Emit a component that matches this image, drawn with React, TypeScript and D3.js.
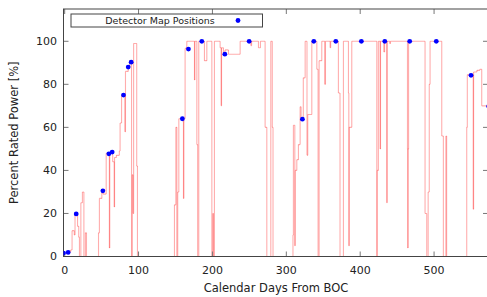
import React from 'react';
import * as d3 from 'd3';

// power history (step after), days from BOC
const days = [
  -2, 3, 8, 10, 13, 14, 17.4, 19, 20, 21.9, 24, 26, 28, 29.5, 45.8, 47, 50.3, 52, 56.2, 60.5, 61, 65, 67, 67.5, 70, 74, 75, 77, 81.5, 82.3, 86, 88, 90.5, 91.5, 92.5, 93.3, 97.5, 98.5,
  148.6, 150.5, 151.8, 153, 154.5, 160.8, 161.3, 163, 165.3, 175.7, 176.2, 178.9, 180, 181.5, 189.2, 192.4, 199.2, 200.5, 201.4, 202.7, 210.4, 211.8, 212.3, 214.9, 217, 221.7, 237.5, 252, 253, 262.3, 265, 271.3, 273.6, 279, 281, 282,
  309, 309.6, 311.5, 312, 314.2, 316.4, 318.7, 320, 323, 325.5, 328, 329, 334.5, 341.3, 343, 344.4, 348, 352, 353, 359.3, 360, 370.5, 372.7, 377.3, 384.1, 384.6, 385.2, 388.6, 422.5,
  423, 424.6, 427, 427.5, 432, 433, 436, 436.5, 440, 441, 464, 464.4, 464.8, 465.5, 487.8, 490.1, 492, 493.5, 494.6, 510.4, 512.6, 516, 517, 544.2, 545, 553, 553.5, 558, 562, 564.5, 575,
];
const power = [
  1.5, 2, 3, 12, 10, 20, 14, 9, 0, 25, 30, 0, 11, 0, 11, 27, 31, 29, 48, 4, 48, 44, 23, 46, 47, 49, 62, 75, 58, 86, 88, 91, 0, 38, 20, 99, 42, 0,
  24, 60, 0, 30, 64, 27, 64, 96.7, 100, 82, 100, 52, 0, 100, 91, 100, 0, 20, 0, 100, 97, 70, 97, 93.5, 96, 94, 100, 98, 100, 97, 100, 60, 0, 100, 60, 0,
  10, 61, 5, 40, 45, 52, 69.6, 64, 83, 100, 47, 66, 100, 87, 0, 91, 100, 80, 100, 97, 100, 76, 0, 100, 76, 5, 60, 100, 0,
  40, 100, 50, 100, 95, 100, 25, 100, 99, 100, 50, 4, 50, 100, 20, 0, 30, 80, 100, 56, 0, 56, 0, 60, 84.5, 22, 85.7, 86.5, 87, 70, 70,
];

// detector map positions
const mapDays = [-1.6, 4.7, 15.6, 51.7, 59.8, 64.3, 79.6, 86, 90, 159.3, 167.5, 185.6, 216.8, 249.7, 321.8, 337.2, 367, 401.6, 433.3, 467, 503, 550, 574];
const mapPower = [1.6, 1.9, 19.8, 30.5, 47.7, 48.5, 75, 88, 90.3, 64, 96.4, 100, 94, 100, 63.8, 100, 100, 100, 100, 100, 100, 84.2, 69.8];

const xTicks = [0, 100, 200, 300, 400, 500];
const yTicks = [0, 20, 40, 60, 80, 100];

const W = 487;
const H = 297;
const left = 63.5, right = 488, top = 9, bottom = 256.5;
const font = 'DejaVu Sans, sans-serif';

export default function App() {
  const x = d3.scaleLinear().domain([-1.6, 573]).range([left, right]);
  const y = d3.scaleLinear().domain([0, 115]).range([bottom, top]);

  const segs: { x1: number; y1: number; x2: number; y2: number }[] = [];
  for (let i = 0; i < days.length - 1; i++) {
    segs.push({ x1: x(days[i]), y1: y(power[i]), x2: x(days[i + 1]), y2: y(power[i]) });
    segs.push({ x1: x(days[i + 1]), y1: y(power[i]), x2: x(days[i + 1]), y2: y(power[i + 1]) });
  }

  return (
    <svg width={W} height={H} style={{ position: 'absolute', left: 0, top: 0, background: '#fff' }}>
      <defs>
        <clipPath id="plot">
          <rect x={left} y={top} width={right - left} height={bottom - top} />
        </clipPath>
      </defs>

      <g clipPath="url(#plot)">
        {segs.map((s, i) => (
          <line key={i} {...s} stroke="#ff0000" strokeOpacity={0.32} strokeWidth={1.1} />
        ))}
      </g>

      {/* ticks, mirrored on all sides */}
      {xTicks.map(t => (
        <g key={'x' + t}>
          <line x1={x(t)} x2={x(t)} y1={bottom} y2={bottom - 5} stroke="#777" />
          <line x1={x(t)} x2={x(t)} y1={top} y2={top + 5} stroke="#777" />
          <text x={x(t)} y={274} textAnchor="middle" fontFamily={font} fontSize={11} fill="#222">{t}</text>
        </g>
      ))}
      {yTicks.map(t => (
        <g key={'y' + t}>
          <line x1={left} x2={left + 5} y1={y(t)} y2={y(t)} stroke="#777" />
          <line x1={right} x2={right - 5} y1={y(t)} y2={y(t)} stroke="#777" />
          <text x={57} y={y(t)} dy="0.35em" textAnchor="end" fontFamily={font} fontSize={11} fill="#222">{t}</text>
        </g>
      ))}

      <rect x={left} y={top} width={right - left} height={bottom - top} fill="none" stroke="#444" strokeWidth={1} />

      <g clipPath="url(#plot)">
        {mapDays.map((d, i) => (
          <circle key={i} cx={x(d)} cy={y(mapPower[i])} r={2.4} fill="#0000ff" />
        ))}
      </g>

      {/* legend */}
      <rect x={71} y={14} width={191.5} height={13} fill="#fff" stroke="#444" strokeWidth={1} />
      <text x={160} y={20.5} dy="0.35em" textAnchor="middle" fontFamily={font} fontSize={9.5} fill="#222">Detector Map Positions</text>
      <circle cx={238} cy={20.5} r={2.4} fill="#0000ff" />

      <text x={276} y={292} textAnchor="middle" fontFamily={font} fontSize={11.5} fill="#222">Calendar Days From BOC</text>
      <text transform={`translate(18,${(top + bottom) / 2}) rotate(-90)`} textAnchor="middle" fontFamily={font} fontSize={11.5} fill="#222">Percent Rated Power [%]</text>
    </svg>
  );
}
